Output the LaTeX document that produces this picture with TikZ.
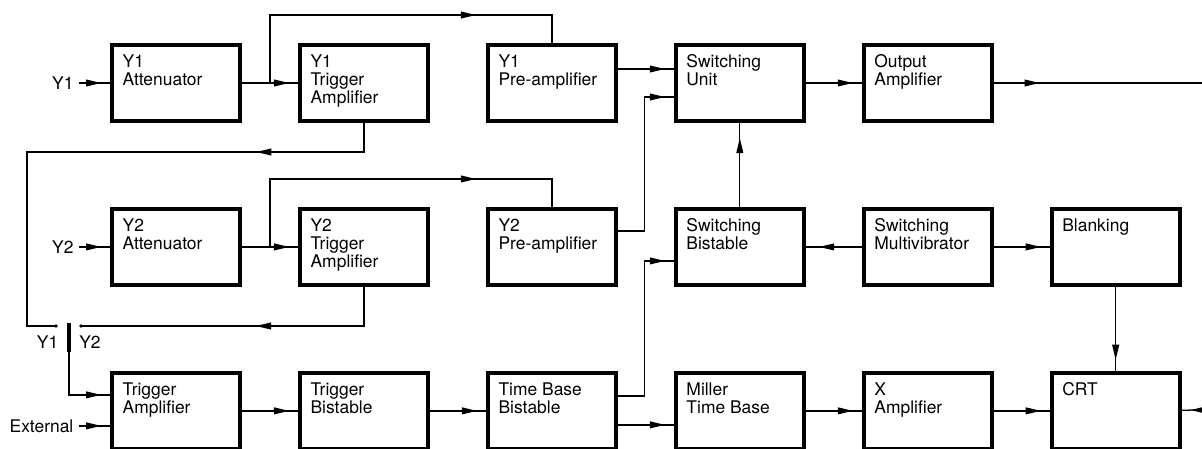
\documentclass[tikz,border=0pt]{standalone}
\usepackage{fontspec}
\setmainfont{TeX Gyre Heros}
\usetikzlibrary{positioning,calc,arrows.meta,decorations.markings}

\tikzset{
  blk/.style={draw, line width=2.8pt, minimum width=3.2cm, minimum height=1.9cm, inner sep=0pt},
  lbl/.style={anchor=north west, align=left, inner sep=0pt, xshift=0.3cm, yshift=-0.28cm},
  txt/.style={label={[lbl]north west:#1}},
  tipat/.style={postaction={decorate}, decoration={markings,
      mark=at position #1 with {\arrow{Triangle[length=3.8mm,width=1.7mm]}}}},
  tipat/.default=-0.22cm,
}

\begin{document}
\begin{tikzpicture}[node distance=2.1cm and 1.4cm, line width=0.9pt,
    every node/.style={font=\fontsize{12.4}{12.8}\selectfont}]
  \useasboundingbox (0,0) rectangle (30.05,11.2);
  \clip (0,0) rectangle (30.05,11.2);
  \node[blk, txt={Y1\\Attenuator}] (y1att) at (4.40,9.125) {};
  \node[blk, txt={Y1\\Trigger\\Amplifier}, right=of y1att] (y1trig) {};
  \node[blk, txt={Y1\\Pre-amplifier}, right=of y1trig] (y1pre) {};
  \node[blk, txt={Switching\\Unit}, right=of y1pre] (swunit) {};
  \node[blk, txt={Output\\Amplifier}, right=of swunit] (outamp) {};
  \node[blk, txt={Y2\\Attenuator}, below=of y1att] (y2att) {};
  \node[blk, txt={Y2\\Trigger\\Amplifier}, right=of y2att] (y2trig) {};
  \node[blk, txt={Y2\\Pre-amplifier}, right=of y2trig] (y2pre) {};
  \node[blk, txt={Switching\\Bistable}, right=of y2pre] (swbist) {};
  \node[blk, txt={Switching\\Multivibrator}, right=of swbist] (swmv) {};
  \node[blk, txt={Blanking}, right=of swmv] (blank) {};
  \node[blk, txt={Trigger\\Amplifier}, below=of y2att] (trigamp) {};
  \node[blk, txt={Trigger\\Bistable}, right=of trigamp] (trigbist) {};
  \node[blk, txt={Time Base\\Bistable}, right=of trigbist] (tbbist) {};
  \node[blk, txt={Miller\\Time Base}, right=of tbbist] (miller) {};
  \node[blk, txt={X\\Amplifier}, right=of miller] (xamp) {};
  \node[blk, txt={CRT}, right=of xamp] (crt) {};

  \node[left=0.78cm of y1att] (in1) {Y1};
  \node[left=0.78cm of y2att] (in2) {Y2};
  \node[anchor=east] (ext) at ([xshift=-0.785cm,yshift=-0.375cm]trigamp.west) {External};
  \coordinate (tap1) at ($(y1att.east)!0.5!(y1trig.west)$);
  \coordinate (tap2) at ($(y2att.east)!0.5!(y2trig.west)$);
  \coordinate (c1) at (1.4,3.05);
  \coordinate (c2) at (2.025,3.05);
  \coordinate (sw) at (1.725,3.125);
  \coordinate (swend) at (1.725,2.4);
  \coordinate (outy) at (30.05,9.125);
  \coordinate (crtin) at (30.05,0.95);

  \draw[tipat] (in1) -- (y1att);
  \draw[tipat] (y1att) -- (y1trig);
  \draw[tipat=6.85cm] (tap1) |- ([yshift=0.7cm]y1pre.north) -- (y1pre.north);
  \draw[tipat] ([yshift=0.35cm]y1pre.east) -- ([yshift=0.35cm]swunit.west);
  \draw[tipat] (swunit) -- (outamp);
  \draw[tipat=1.15cm] (outamp) -- (outy);
  \draw[tipat] (in2) -- (y2att);
  \draw[tipat] (y2att) -- (y2trig);
  \draw[tipat=6.85cm] (tap2) |- ([yshift=0.7cm]y2pre.north) -- (y2pre.north);
  \draw[tipat] ([yshift=0.4cm]y2pre.east) -- ++(0.675,0) |- ([yshift=-0.35cm]swunit.west);
  \draw[tipat=-0.375cm] (swbist) -- (swunit);
  \draw[tipat=-0.33cm] (swmv) -- (swbist);
  \draw[tipat] (swmv) -- (blank);
  \draw[tipat=-0.275cm] (blank) -- (crt);
  \draw[tipat=3.42cm] (y1trig.south) |- (0.675,7.4) |- (c1);
  \draw[tipat=3.68cm] (y2trig.south) |- (c2);
  \fill (c1) circle (1.4pt);
  \fill (c2) circle (1.4pt);
  \draw[line width=2.6pt] (sw) -- (swend);
  \node (p1) at (1.19,2.65) {Y1};
  \node (p2) at (2.25,2.65) {Y2};
  \draw[tipat] (swend) |- ([yshift=0.4cm]trigamp.west);
  \draw[tipat] (ext) -- (ext -| trigamp.west);
  \draw[tipat] (trigamp) -- (trigbist);
  \draw[tipat] (trigbist) -- (tbbist);
  \draw[tipat] ([yshift=0.375cm]tbbist.east) -- ++(0.675,0) |- ([yshift=-0.35cm]swbist.west);
  \draw[tipat] ([yshift=-0.35cm]tbbist.east) -- ([yshift=-0.35cm]miller.west);
  \draw[tipat] (miller) -- (xamp);
  \draw[tipat] (xamp) -- (crt);
  \draw[tipat] (crtin) -- (crt);
\end{tikzpicture}
\end{document}
